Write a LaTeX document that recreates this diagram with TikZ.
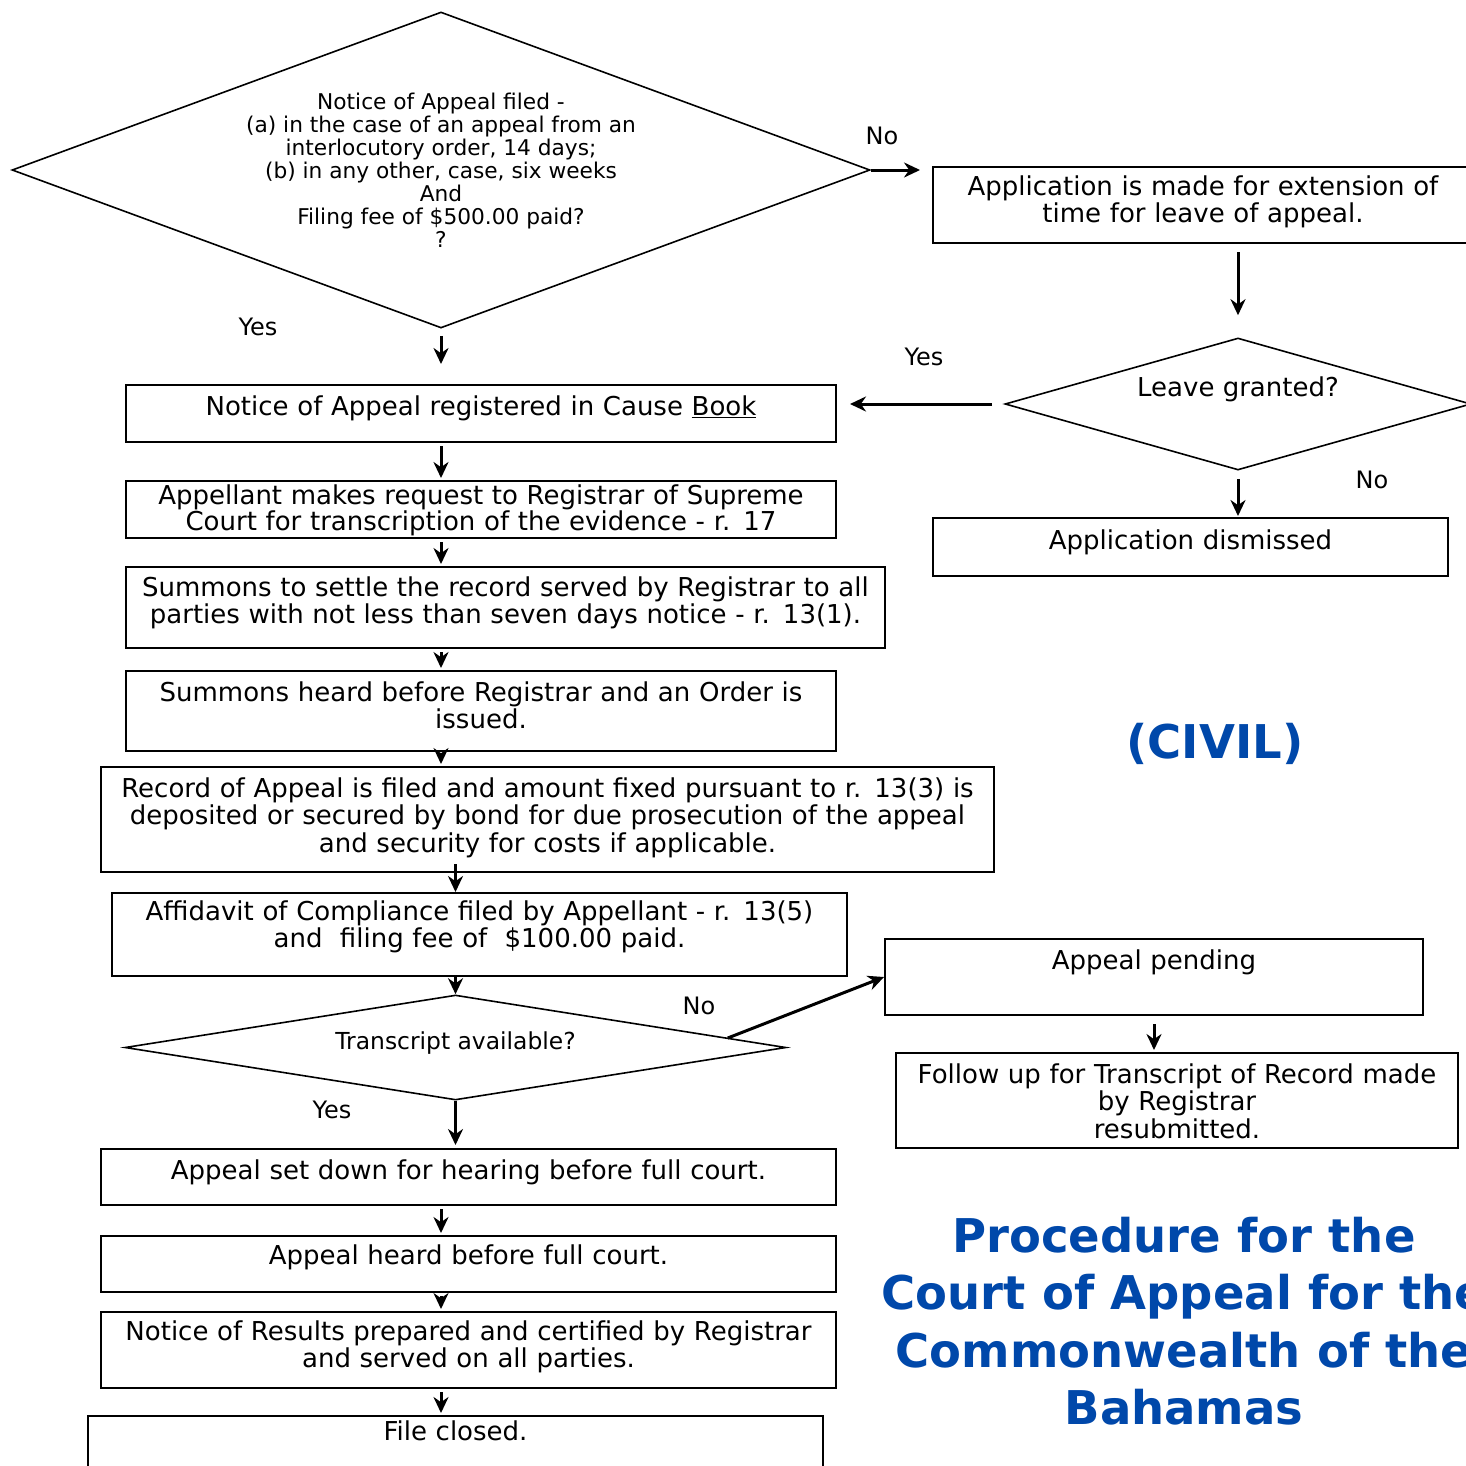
\documentclass[tikz,border=0pt]{standalone}
\usepackage{fontspec}
\setmainfont{DejaVu Sans}
\usetikzlibrary{shapes.geometric,arrows.meta}
\definecolor{titleblue}{RGB}{0,72,170}
\tikzset{
	box/.style={draw, line width=2pt, inner sep=0pt, anchor=north west, align=center,
		font=\fontsize{26}{27.5}\selectfont},
	decision/.style={draw, diamond, line width=1.6pt, inner sep=0pt, align=center},
	flow/.style={line width=3pt, -{Stealth[length=16pt,width=15pt]}},
	lbl/.style={font=\fontsize{24}{28}\selectfont},
	heading/.style={text=titleblue, font=\bfseries\fontsize{46.5}{57.5}\selectfont, align=center}
}
\begin{document}
\begin{tikzpicture}[x=1pt, y=-1pt]
	\useasboundingbox (0,0) rectangle (1466,1465);
	\clip (0,0) rectangle (1466,1465);
	\fill [white] (0,0) rectangle (1466,1465);

	% decisions
	\node [decision, aspect=2.715, minimum width=858pt, minimum height=316pt, font=\fontsize{21.7}{23}\selectfont]
		(filed) at (441,170) {Notice of Appeal filed -\\(a) in the case of an appeal from an\\interlocutory order, 14 days;\\(b) in any other, case, six weeks\\And\\Filing fee of \$500.00 paid?\\?};
	\node [decision, aspect=3.53, minimum width=466pt, minimum height=132pt, font=\fontsize{26}{27.5}\selectfont,
		text height=19pt, text depth=34pt] (leave) at (1238,404) {Leave granted?};
	\node [decision, aspect=6.3, minimum width=661pt, minimum height=105pt, font=\fontsize{23.4}{26}\selectfont,
		text height=17pt, text depth=14pt] (trans) at (455.5,1047.5) {Transcript available?};

	% main column
	\node [box, text width=710pt, text height=30pt, text depth=27pt] (reg) at (125,384)
		{Notice of Appeal registered in Cause \underline{Book}};
	\node [box, text width=710pt, text height=23pt, text depth=34pt, font=\fontsize{26}{22}\selectfont] (req) at (125,480)
		{Appellant makes request to Registrar of Supreme\\Court for transcription of the evidence - r. 17};
	\node [box, text width=759pt, text height=29pt, text depth=52pt] (summ) at (125,566)
		{Summons to settle the record served by Registrar to all\\parties with not less than seven days notice - r. 13(1).};
	\node [box, text width=710pt, text height=30pt, text depth=50pt] (heard) at (125,670)
		{Summons heard before Registrar and an Order is\\issued.};
	\node [box, text width=893pt, text height=30pt, text depth=75pt] (rec) at (100,766)
		{Record of Appeal is filed and amount fixed pursuant to r. 13(3) is\\deposited or secured by bond for due prosecution of the appeal\\and security for costs if applicable.};
	\node [box, text width=735pt, text height=27pt, text depth=56pt] (aff) at (111,892)
		{Affidavit of Compliance filed by Appellant - r. 13(5)\\and~ filing fee of~ \$100.00 paid.};
	\node [box, text width=735pt, text height=30pt, text depth=26pt] (setdown) at (100,1148)
		{Appeal set down for hearing before full court.};
	\node [box, text width=735pt, text height=28pt, text depth=28pt] (fullcourt) at (100,1235)
		{Appeal heard before full court.};
	\node [box, text width=735pt, text height=28pt, text depth=48pt] (results) at (100,1311)
		{Notice of Results prepared and certified by Registrar\\and served on all parties.};
	\node [box, text width=735pt, text height=24pt, text depth=46pt] (closed) at (87,1415)
		{File closed.};

	% right column
	\node [box, text width=540pt, text height=28pt, text depth=48pt] (appl) at (932,166)
		{Application is made for extension of\\time for leave of appeal.};
	\node [box, text width=515pt, text height=31pt, text depth=27pt] (dism) at (932,517)
		{Application dismissed};
	\node [box, text width=538pt, text height=30pt, text depth=46pt] (pend) at (884,938)
		{Appeal pending};
	\node [box, text width=562pt, text height=30pt, text depth=65pt] (follow) at (895,1052)
		{Follow up for Transcript of Record made\\by Registrar\\resubmitted.};

	% arrows
	\coordinate (spine) at (441,0);
	\draw [flow, shorten <=7pt, shorten >=20pt] (filed.south) -- (filed.south |- reg.north);
	\draw [flow, shorten >=12pt] (filed.east) -- (filed.east -| appl.west);
	\draw [flow, shorten <=8pt, shorten >=22pt] (leave.north |- appl.south) -- (leave.north);
	\draw [flow, shorten <=12pt, shorten >=13pt] (leave.west) -- (leave.west -| reg.east);
	\draw [flow, shorten <=8pt, shorten >=1pt] (leave.south) -- (leave.south |- dism.north);
	\foreach \a/\b in {reg/req, req/summ, summ/heard, heard/rec, setdown/fullcourt, fullcourt/results, results/closed} {
		\draw [flow, shorten <=3pt, shorten >=2pt] (spine |- \a.south) -- (spine |- \b.north);
	}
	\draw [flow, shorten <=-9pt] (trans.north |- rec.south) -- (trans.north |- aff.north);
	\draw [flow] (trans.north |- aff.south) -- (trans.north);
	\draw [flow, shorten >=3pt] (trans.south) -- (trans.south |- setdown.north);
	\draw [flow] (trans.2) -- (pend.west);
	\draw [flow, shorten <=8pt, shorten >=2pt] (pend.south) -- (pend.south |- follow.north);

	% branch labels
	\node [lbl] (nofiled) at (882,136) {No};
	\node [lbl] (yesfiled) at (258,327) {Yes};
	\node [lbl] (yesleave) at (924,357) {Yes};
	\node [lbl] (noleave) at (1372,480) {No};
	\node [lbl] (notrans) at (699,1006) {No};
	\node [lbl] (yestrans) at (332,1110) {Yes};

	% title
	\node [heading] (civil) at (1215,744) {(CIVIL)};
	\node [heading] (title) at (1184,1321) {Procedure for the\\Court of Appeal for the\\Commonwealth of the\\Bahamas};
\end{tikzpicture}
\end{document}
